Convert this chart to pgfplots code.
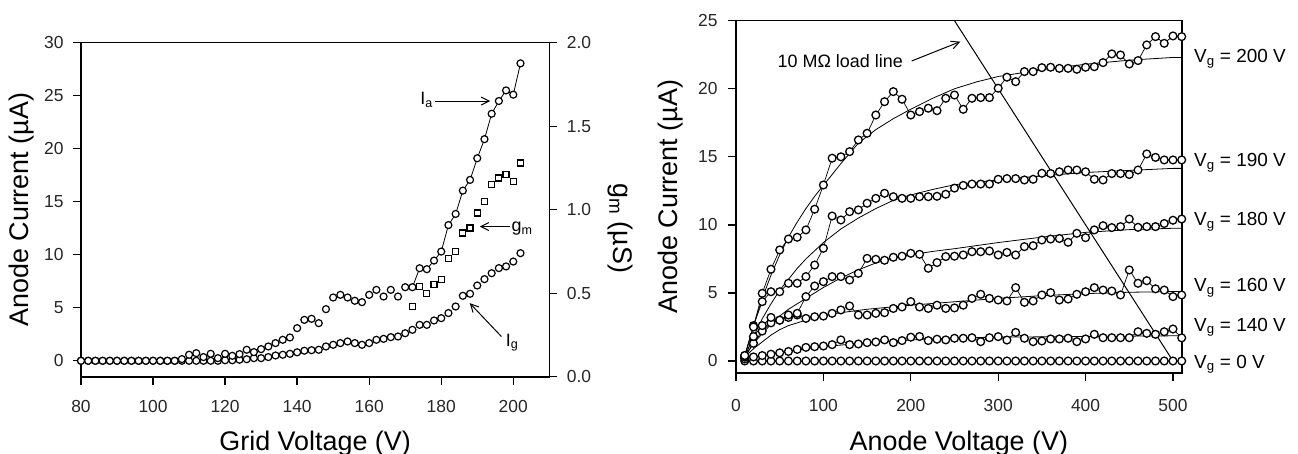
\documentclass[border=0pt]{standalone}
\usepackage{pgfplots}
\pgfplotsset{compat=1.18}
\usepackage{fontspec}
\setmainfont{Liberation Sans}
\usetikzlibrary{arrows.meta}
\tikzset{arr/.style={line width=1bp, -{Straight Barb[length=8bp,width=8bp]}}}
\pgfplotsset{
  myaxis/.style={
    scale only axis,
    axis line style={line width=1.6bp},
    tick align=outside,
    major tick length=8bp,
    every tick/.style={line width=1.3bp,black},
    tick label style={font=\fontsize{17.5}{17.5}\selectfont, text=black!85},
    /pgf/number format/assume math mode=true,
  },
  circL/.style={only marks, mark=*, mark size=3.5bp, mark options={fill=white, draw=black, line width=1.2bp}},
  sqL/.style={only marks, mark=square*, mark size=3bp, mark options={fill=white, draw=black, line width=1.2bp}},
  circR/.style={black, line width=0.7bp, mark=*, mark size=3.9bp, mark options={solid, fill=white, draw=black, line width=1.3bp}},
  fitR/.style={black, line width=0.8bp, no marks},
}
\begin{document}
\begin{tikzpicture}
\path[use as bounding box] (0bp,0bp) rectangle (1298bp,454bp);
% ---------------- left panel ----------------
\begin{axis}[myaxis, at={(81bp,77.3bp)}, anchor=south west, width=468.3bp, height=334bp,
  xmin=80, xmax=210, ymin=-1.5, ymax=30,
  xtick={80,100,...,200}, ytick={0,5,...,30},
  xtick pos=left, ytick pos=left,
  xticklabel style={yshift=-12.5bp}, yticklabel style={xshift=-6bp},
  xlabel={Grid Voltage (V)}, ylabel={Anode Current (µA)},
  every axis x label/.style={at={(axis description cs:0.5,-0.2)},anchor=center,font=\fontsize{27}{30}\selectfont},
  every axis y label/.style={at={(axis description cs:-0.128,0.5)},anchor=center,rotate=90,font=\fontsize{27}{30}\selectfont},
  clip=false]
\addplot[black, line width=0.8bp, no marks] coordinates {(172,6.94)(174,8.73)(176,8.64)(178,9.45)(180,10.3)(182,12.8)(184,13.85)(186,16.05)(188,17.06)(190,19.1)(192,20.9)(194,23.3)(196,24.5)(198,25.5)(200,25.1)(202,28.05)};
% I_g
\addplot[circL] coordinates {(80,0)(82,0)(84,0)(86,0)(88,0)(90,0)(92,0)(94,0)(96,0)(98,0)(100,0)(102,0)(104,0)(106,0)(108,0)(110,0)(112,0)(114,0)(116,0)(118,0)(120,0.05)(122,0.05)(124,0.1)(126,0.15)(128,0.25)(130,0.25)(132,0.35)(134,0.5)(136,0.57)(138,0.66)(140,0.8)(142,0.95)(144,1.0)(146,1.04)(148,1.35)(150,1.51)(152,1.67)(154,1.82)(156,1.67)(158,1.51)(160,1.67)(162,1.98)(164,2.07)(166,2.23)(168,2.29)(170,2.6)(172,2.92)(174,3.39)(176,3.39)(178,3.8)(180,4.02)(182,4.5)(184,5.12)(186,6.13)(188,6.32)(190,7.1)(192,7.7)(194,8.26)(196,8.74)(198,8.9)(200,9.36)(202,10.15)};
% I_a
\addplot[circL] coordinates {(80,0)(82,0)(84,0)(86,0)(88,0)(90,0)(92,0)(94,0)(96,0)(98,0)(100,0)(102,0)(104,0)(106,0)(108,0.16)(110,0.57)(112,0.72)(114,0.35)(116,0.66)(118,0.25)(120,0.66)(122,0.47)(124,0.63)(126,1.04)(128,0.82)(130,1.1)(132,1.35)(134,1.67)(136,1.98)(138,2.2)(140,3.08)(142,3.86)(144,3.96)(146,3.55)(148,4.87)(150,5.97)(152,6.22)(154,5.97)(156,5.66)(158,5.53)(160,6.22)(162,6.69)(164,6.06)(166,6.69)(168,6.06)(170,6.94)(172,6.94)(174,8.73)(176,8.64)(178,9.45)(180,10.3)(182,12.8)(184,13.85)(186,16.05)(188,17.06)(190,19.1)(192,20.9)(194,23.3)(196,24.5)(198,25.5)(200,25.1)(202,28.05)};
\node[anchor=east, font=\fontsize{18}{18}\selectfont, inner sep=1bp] at (axis cs:178,24.6) {I\textsubscript{a}};
\draw[arr] (axis cs:178.3,24.5) -- (axis cs:193.6,24.5);
\node[anchor=west, font=\fontsize{18}{18}\selectfont, inner sep=1bp] at (axis cs:199.2,12.45) {g\textsubscript{m}};
\draw[arr] (axis cs:199.0,12.66) -- (axis cs:190.7,12.66);
\node[anchor=north west, font=\fontsize{18}{18}\selectfont, inner sep=1bp] at (axis cs:197.6,2.65) {I\textsubscript{g}};
\draw[arr] (axis cs:196.7,2.29) -- (axis cs:187.9,5.44);
\end{axis}
\begin{axis}[myaxis, at={(81bp,77.3bp)}, anchor=south west, width=468.3bp, height=334bp,
  xmin=80, xmax=210, ymin=0, ymax=2,
  axis x line=none, axis y line*=right,
  ytick={0,0.5,1,1.5,2},
  yticklabel style={xshift=6bp, /pgf/number format/.cd, fixed, fixed zerofill, precision=1},
  ylabel={g\textsubscript{m} (µS)},
  every axis y label/.style={at={(axis description cs:1.151,0.445)},anchor=center,rotate=-90,font=\fontsize{27}{30}\selectfont},
  clip=false]
\addplot[sqL] coordinates {(172,0.42)(174,0.54)(176,0.50)(178,0.55)(180,0.58)(182,0.71)(184,0.75)(186,0.86)(188,0.89)(190,0.98)(192,1.05)(194,1.15)(196,1.19)(198,1.21)(200,1.17)(202,1.28)};
\end{axis}
% ---------------- right panel ----------------
\begin{axis}[myaxis, at={(736bp,81.3bp)}, anchor=south west, width=445.7bp, height=352bp,
  xmin=0, xmax=510, ymin=-0.86, ymax=25,
  xtick={0,100,...,500}, ytick={0,5,...,25},
  xtick pos=left, ytick pos=left,
  xticklabel style={yshift=-15bp}, yticklabel style={xshift=-7bp},
  xlabel={Anode Voltage (V)}, ylabel={Anode Current (µA)},
  every axis x label/.style={at={(axis description cs:0.5,-0.2)},anchor=center,font=\fontsize{27}{30}\selectfont},
  every axis y label/.style={at={(axis description cs:-0.146,0.5)},anchor=center,rotate=90,font=\fontsize{27}{30}\selectfont},
  clip=false]
% fits
\addplot[fitR] coordinates {(10,0.3)(20,2.6)(30,4.6)(40,6.3)(50,7.8)(60,9.1)(70,10.2)(80,11.2)(90,12.1)(100,12.9)(120,14.5)(140,16.0)(160,17.0)(180,17.8)(200,18.5)(225,19.3)(250,20.0)(275,20.5)(300,20.9)(350,21.4)(400,21.8)(450,22.1)(500,22.3)(510,22.3)};
\addplot[fitR] coordinates {(10,0.3)(20,1.8)(30,3.1)(40,4.2)(50,5.2)(60,6.0)(70,6.8)(80,7.5)(90,8.1)(100,8.7)(120,9.7)(140,10.5)(160,11.2)(180,11.8)(200,12.2)(225,12.6)(250,12.95)(300,13.3)(350,13.6)(400,13.85)(450,14.0)(500,14.15)(510,14.15)};
\addplot[fitR] coordinates {(10,0.3)(20,1.3)(30,2.0)(40,2.7)(50,3.3)(60,3.8)(70,4.2)(80,4.6)(100,5.4)(120,6.1)(140,6.7)(160,7.2)(180,7.55)(200,7.8)(225,8.05)(250,8.25)(300,8.7)(350,9.1)(400,9.45)(450,9.65)(500,9.75)(510,9.75)};
\addplot[fitR] coordinates {(10,0.3)(20,0.9)(30,1.4)(40,1.9)(50,2.3)(60,2.6)(80,3.0)(100,3.35)(120,3.55)(150,3.8)(200,4.1)(250,4.35)(300,4.6)(350,4.8)(400,4.95)(450,5.05)(500,5.1)(510,5.1)};
\addplot[fitR] coordinates {(10,0.15)(20,0.3)(40,0.5)(60,0.7)(80,0.9)(100,1.05)(150,1.35)(200,1.55)(250,1.7)(300,1.75)(400,1.8)(500,1.85)(510,1.85)};
% load line
\addplot[black, line width=1bp, no marks] coordinates {(250,25)(500,0)};
% Vg = 0
\addplot[circR] coordinates {(10,0)(20,0)(30,0)(40,0)(50,0)(60,0)(70,0)(80,0)(90,0)(100,0)(110,0)(120,0)(130,0)(140,0)(150,0)(160,0)(170,0)(180,0)(190,0)(200,0)(210,0)(220,0)(230,0)(240,0)(250,0)(260,0)(270,0)(280,0)(290,0)(300,0)(310,0)(320,0)(330,0)(340,0)(350,0)(360,0)(370,0)(380,0)(390,0)(400,0)(410,0)(420,0)(430,0)(440,0)(450,0)(460,0)(470,0)(480,0)(490,0)(500,0)(510,0)};
% Vg = 140
\addplot[circR] coordinates {(10,0.15)(20,0.3)(30,0.4)(40,0.5)(50,0.6)(60,0.7)(70,0.85)(80,1.0)(90,1.05)(100,1.1)(110,1.2)(120,1.55)(130,1.2)(140,1.25)(150,1.35)(160,1.4)(170,1.55)(180,1.35)(190,1.5)(200,1.75)(210,1.8)(220,1.5)(230,1.6)(240,1.55)(250,1.67)(260,1.67)(270,1.71)(280,1.42)(290,1.71)(300,1.79)(310,1.54)(320,2.1)(330,1.67)(340,1.42)(350,1.47)(360,1.62)(370,1.62)(380,1.67)(390,1.42)(400,1.62)(410,1.96)(420,1.71)(430,1.71)(440,1.71)(450,1.71)(460,2.15)(470,2.03)(480,1.96)(490,2.15)(500,2.35)(510,1.7)};
% Vg = 160
\addplot[circR] coordinates {(10,0.3)(20,1.3)(30,2.2)(40,2.8)(50,3.0)(60,3.2)(70,3.38)(80,3.13)(90,3.25)(100,3.3)(110,3.5)(120,3.75)(130,4.04)(140,3.38)(150,3.38)(160,3.5)(170,3.55)(180,3.86)(190,3.97)(200,4.36)(210,3.97)(220,3.86)(230,4.1)(240,3.86)(250,3.9)(260,4.1)(270,4.6)(280,4.9)(290,4.6)(300,4.48)(310,4.41)(320,5.39)(330,4.31)(340,4.41)(350,4.85)(360,5.02)(370,4.48)(380,4.55)(390,4.9)(400,5.09)(410,5.39)(420,5.21)(430,5.14)(440,4.85)(450,6.69)(460,5.71)(470,5.9)(480,5.3)(490,5.21)(500,4.73)(510,4.85)};
% Vg = 180
\addplot[circR] coordinates {(10,0.3)(20,1.8)(30,2.6)(40,3.2)(50,3.0)(60,3.38)(70,3.5)(80,4.73)(90,5.51)(100,5.83)(110,6.2)(120,6.2)(130,5.95)(140,6.44)(150,7.54)(160,7.47)(170,7.4)(180,7.62)(190,7.7)(200,7.91)(210,7.84)(220,6.81)(230,7.23)(240,7.67)(250,7.7)(260,7.79)(270,8.03)(280,8.03)(290,8.08)(300,7.79)(310,7.98)(320,7.79)(330,8.4)(340,8.47)(350,8.89)(360,8.96)(370,9.0)(380,8.72)(390,9.38)(400,9.06)(410,9.63)(420,9.94)(430,9.8)(440,9.87)(450,10.43)(460,9.82)(470,9.87)(480,9.87)(490,10.1)(500,10.34)(510,10.43)};
% Vg = 190
\addplot[circR] coordinates {(10,0.4)(20,2.6)(30,4.36)(40,5.09)(50,5.09)(60,5.71)(70,5.71)(80,6.2)(90,7.05)(100,8.28)(110,10.65)(120,10.36)(130,10.97)(140,11.1)(150,11.59)(160,11.95)(170,12.32)(180,12.07)(190,11.95)(200,11.95)(210,12.07)(220,12.07)(230,12.1)(240,12.25)(250,12.7)(260,12.9)(270,13.0)(280,13.0)(290,13.0)(300,13.35)(310,13.4)(320,13.4)(330,13.3)(340,13.35)(350,13.79)(360,13.77)(370,13.9)(380,14.03)(390,14.03)(400,13.9)(410,13.35)(420,13.3)(430,13.77)(440,13.77)(450,13.7)(460,14.03)(470,15.21)(480,14.96)(490,14.77)(500,14.77)(510,14.77)};
% Vg = 200
\addplot[circR] coordinates {(10,0.4)(20,2.5)(30,4.97)(40,6.74)(50,8.16)(60,8.96)(70,9.09)(80,9.63)(90,11.15)(100,12.93)(110,14.9)(120,15.0)(130,15.38)(140,16.24)(150,16.73)(160,18.07)(170,19.05)(180,19.79)(190,19.23)(200,18.07)(210,18.32)(220,18.57)(230,18.39)(240,19.3)(250,19.54)(260,18.49)(270,19.3)(280,19.35)(290,19.35)(300,20.04)(310,20.85)(320,20.52)(330,21.26)(340,21.26)(350,21.55)(360,21.58)(370,21.5)(380,21.5)(390,21.43)(400,21.58)(410,21.62)(420,21.92)(430,22.56)(440,22.48)(450,21.82)(460,22.07)(470,23.22)(480,23.83)(490,23.34)(500,23.88)(510,23.83)};
% annotations
\node[font=\fontsize{18}{18}\selectfont] at (axis cs:119.3,22.0) {10 MΩ load line};
\draw[arr] (axis cs:201,22.04) -- (axis cs:256.6,23.46);
\node[anchor=base west, xshift=9bp, font=\fontsize{19}{19}\selectfont] at (axis cs:510,21.9) {V\textsubscript{g} = 200 V};
\node[anchor=base west, xshift=9bp, font=\fontsize{19}{19}\selectfont] at (axis cs:510,14.28) {V\textsubscript{g} = 190 V};
\node[anchor=base west, xshift=9bp, font=\fontsize{19}{19}\selectfont] at (axis cs:510,9.92) {V\textsubscript{g} = 180 V};
\node[anchor=base west, xshift=9bp, font=\fontsize{19}{19}\selectfont] at (axis cs:510,5.09) {V\textsubscript{g} = 160 V};
\node[anchor=base west, xshift=9bp, font=\fontsize{19}{19}\selectfont] at (axis cs:510,2.2) {V\textsubscript{g} = 140 V};
\node[anchor=base west, xshift=9bp, font=\fontsize{19}{19}\selectfont] at (axis cs:510,-0.54) {V\textsubscript{g} = 0 V};
\end{axis}
\end{tikzpicture}
\end{document}
